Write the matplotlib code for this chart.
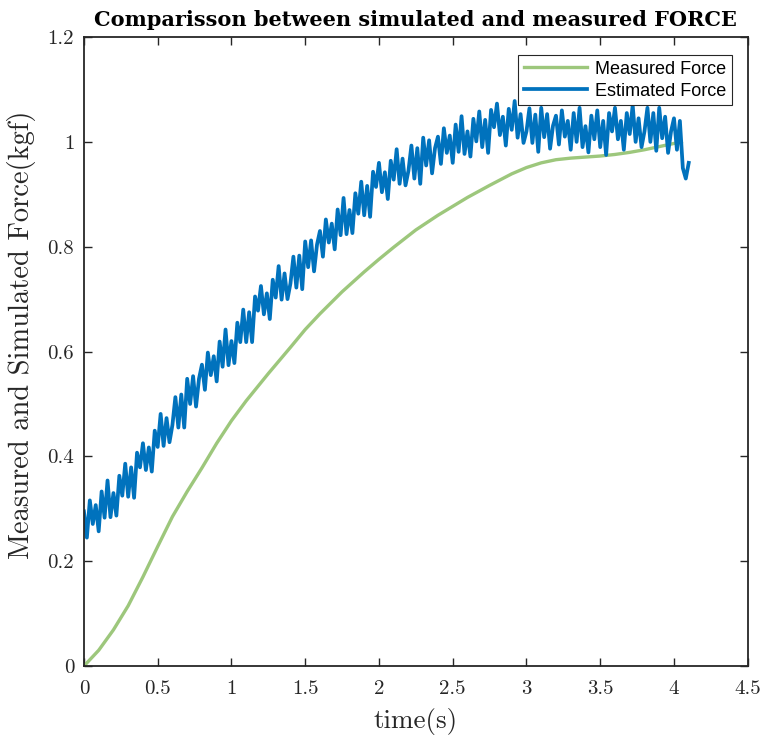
import matplotlib
matplotlib.use('Agg')
import matplotlib.pyplot as plt
import numpy as np

# measured force (smooth curve)
meas_time = [0, 0.1, 0.2, 0.3, 0.4, 0.5, 0.6, 0.7, 0.8, 0.9, 1.0, 1.1, 1.25, 1.4,
             1.5, 1.6, 1.75, 1.9, 2.0, 2.1, 2.25, 2.4, 2.5, 2.6, 2.75, 2.9, 3.0,
             3.1, 3.2, 3.3, 3.4, 3.5, 3.6, 3.7, 3.8, 3.9, 4.0, 4.05]
meas_force = [0, 0.03, 0.069, 0.115, 0.17, 0.228, 0.285, 0.333, 0.378, 0.425, 0.468,
              0.506, 0.558, 0.608, 0.642, 0.672, 0.714, 0.752, 0.776, 0.799, 0.832,
              0.860, 0.877, 0.894, 0.917, 0.939, 0.951, 0.960, 0.966, 0.969, 0.971,
              0.973, 0.976, 0.980, 0.985, 0.991, 0.997, 1.0]

# estimated force (noisy), sampled every 0.02 s
est_dt = 0.02
est_force = [
    .295, .245, .316, .271, .307, .257, .333, .283, .354, .284,
    .330, .287, .363, .325, .386, .323, .379, .321, .407, .379,
    .425, .374, .417, .371, .449, .418, .481, .420, .473, .427,
    .460, .513, .455, .518, .455, .548, .500, .553, .495, .548,
    .575, .527, .598, .555, .591, .543, .619, .571, .642, .574,
    .620, .578, .655, .618, .680, .618, .675, .618, .705, .678,
    .725, .671, .711, .662, .737, .703, .763, .699, .749, .700,
    .730, .781, .722, .783, .719, .810, .761, .812, .753, .804,
    .830, .781, .852, .808, .844, .795, .871, .822, .893, .824,
    .870, .826, .902, .863, .924, .860, .916, .857, .943, .914,
    .960, .904, .942, .891, .964, .928, .986, .920, .968, .917,
    .945, .993, .930, .988, .920, 1.008, .955, 1.003, .940, .988,
    1.010, .958, 1.026, .979, 1.012, .960, 1.033, .981, 1.049, .977,
    1.020, .972, 1.044, 1.001, 1.058, .990, 1.042, .979, 1.061, 1.028,
    1.073, 1.013, 1.048, .993, 1.063, 1.023, 1.078, 1.008, 1.053, .998,
    1.020, 1.064, .998, 1.052, .981, 1.065, 1.009, 1.053, .987, 1.031,
    1.050, .995, 1.060, 1.010, 1.040, .985, 1.055, 1.000, 1.065, .990,
    1.030, .980, 1.050, 1.005, 1.060, .990, 1.040, .975, 1.055, 1.020,
    1.065, 1.005, 1.040, .985, 1.055, 1.015, 1.070, 1.000, 1.045, .990,
    1.020, 1.065, 1.000, 1.055, .983, 1.065, 1.007, 1.048, .979, 1.020,
    1.045, .985, 1.040, .950, .930, .960,
]
est_time = np.arange(len(est_force)) * est_dt

x_ticks = [0, 0.5, 1, 1.5, 2, 2.5, 3, 3.5, 4, 4.5]
x_labels = ['0', '0.5', '1', '1.5', '2', '2.5', '3', '3.5', '4', '4.5']
y_ticks = [0, 0.2, 0.4, 0.6, 0.8, 1.0, 1.2]
y_labels = ['0', '0.2', '0.4', '0.6', '0.8', '1', '1.2']

green = '#9DC77C'
blue = '#0072BD'
dark = '#262626'

fig = plt.figure(figsize=(7.63, 7.44), dpi=100)
ax = fig.add_axes([0.110, 0.1048, 0.870, 0.8454])

ax.plot(meas_time, meas_force, color=green, linewidth=2.4, label='Measured Force')
ax.plot(est_time, est_force, color=blue, linewidth=2.7, label='Estimated Force')

ax.set_xlim(0, 4.5)
ax.set_ylim(0, 1.2)
ax.set_xticks(x_ticks)
ax.set_xticklabels(x_labels, family='cmr10', fontsize=15, color=dark)
ax.set_yticks(y_ticks)
ax.set_yticklabels(y_labels, family='cmr10', fontsize=15, color=dark)
ax.tick_params(direction='in', length=6, width=1.0, top=True, right=True,
               colors=dark)
ax.tick_params(axis='x', pad=10)
ax.tick_params(axis='y', pad=7)
for s in ax.spines.values():
    s.set_linewidth(1.3)
    s.set_color(dark)

ax.set_xlabel('time(s)', family='cmr10', fontsize=19.5, color=dark, labelpad=7)
ax.set_ylabel('Measured and Simulated Force(kgf)', family='cmr10', fontsize=20.5,
              color=dark)
ax.yaxis.set_label_coords(-0.072, 0.526)
ax.set_title('Comparisson between simulated and measured FORCE', family='DejaVu Serif',
             fontweight='bold', fontsize=15, color='black', pad=8)

leg = ax.legend(loc='upper right', bbox_to_anchor=(0.976, 0.971), borderaxespad=0,
                fancybox=False, framealpha=1, edgecolor=dark,
                prop={'family': 'Liberation Sans', 'size': 13},
                handlelength=3.5, handletextpad=0.45, borderpad=0.3,
                labelspacing=0.28)
leg.get_frame().set_linewidth(0.8)

fig.savefig('out.png', dpi=100)
